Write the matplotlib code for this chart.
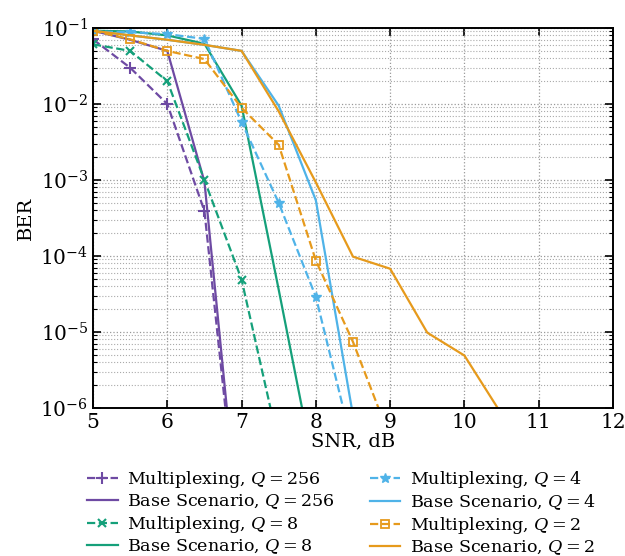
import matplotlib
matplotlib.use("Agg")
import matplotlib.pyplot as plt
import numpy as np

plt.rcParams['font.family'] = ['DejaVu Serif']
plt.rcParams['mathtext.fontset'] = 'dejavuserif'

# BER vs SNR curves
snr_mux256 = [5, 5.5, 6, 6.5, 7]
ber_mux256 = [0.071, 0.030, 0.010, 3.9e-4, 1e-8]
snr_base256 = [5, 5.5, 6, 6.5, 7]
ber_base256 = [0.092, 0.070, 0.050, 9.5e-4, 1.1e-8]

snr_mux8 = [5, 5.5, 6, 6.5, 7, 7.5]
ber_mux8 = [0.061, 0.050, 0.020, 1.0e-3, 4.9e-5, 3.3e-7]
snr_base8 = [5, 5.5, 6, 6.5, 7, 7.5, 8]
ber_base8 = [0.092, 0.090, 0.080, 0.062, 0.0095, 3.6e-5, 1.2e-7]

snr_mux4 = [5, 5.5, 6, 6.5, 7, 7.5, 8, 8.5]
ber_mux4 = [0.090, 0.088, 0.083, 0.072, 0.0058, 5.0e-4, 2.9e-5, 3e-7]
snr_base4 = [5, 5.5, 6, 6.5, 7, 7.5, 8, 8.5]
ber_base4 = [0.092, 0.080, 0.070, 0.060, 0.050, 0.0095, 5.4e-4, 8e-7]

snr_mux2 = [5, 5.5, 6, 6.5, 7, 7.5, 8, 8.5, 9]
ber_mux2 = [0.092, 0.071, 0.050, 0.039, 0.0089, 0.0029, 8.7e-5, 7.4e-6, 4e-7]
snr_base2 = [5, 5.5, 6, 6.5, 7, 7.5, 8, 8.5, 9, 9.5, 10, 10.5]
ber_base2 = [0.092, 0.080, 0.070, 0.060, 0.050, 0.008, 9.3e-4, 9.8e-5,
             6.8e-5, 9.8e-6, 4.9e-6, 8.3e-7]

purple = '#6e4aa3'
green = '#15a07a'
blue = '#4fb3e8'
orange = '#e69a1c'

fig = plt.figure(figsize=(6.25, 5.56), dpi=100)
ax = fig.add_axes([93/625, 1-408/556, 520/625, 380/556])

lw = 1.6
ax.plot(snr_mux256, ber_mux256, '--', marker='+', ms=8, mew=1.5, color=purple, lw=lw,
        label=r'Multiplexing, $Q = 256$')
ax.plot(snr_base256, ber_base256, '-', color=purple, lw=lw,
        label=r'Base Scenario, $Q = 256$')
ax.plot(snr_mux8, ber_mux8, '--', marker='x', ms=6, mew=1.5, color=green, lw=lw,
        label=r'Multiplexing, $Q = 8$')
ax.plot(snr_base8, ber_base8, '-', color=green, lw=lw,
        label=r'Base Scenario, $Q = 8$')
ax.plot(snr_mux4, ber_mux4, '--', marker='*', ms=7, mew=1.0, color=blue, lw=lw,
        label=r'Multiplexing, $Q = 4$')
ax.plot(snr_base4, ber_base4, '-', color=blue, lw=lw,
        label=r'Base Scenario, $Q = 4$')
ax.plot(snr_mux2, ber_mux2, '--', marker='s', ms=6, mew=1.3, mfc='none', color=orange, lw=lw,
        label=r'Multiplexing, $Q = 2$')
ax.plot(snr_base2, ber_base2, '-', color=orange, lw=lw,
        label=r'Base Scenario, $Q = 2$')

ax.set_yscale('log')
ax.set_xlim(5, 12)
ax.set_ylim(1e-6, 1e-1)
ax.set_xticks(np.arange(5, 13, 1))
ax.yaxis.set_minor_locator(matplotlib.ticker.LogLocator(base=10, subs=np.arange(2, 10)))
ax.yaxis.set_minor_formatter(matplotlib.ticker.NullFormatter())
ax.grid(True, which='major', ls=':', color='#999999', lw=0.9)
ax.grid(True, which='minor', axis='y', ls=':', color='#aaaaaa', lw=0.8)
ax.tick_params(which='both', direction='in', top=True, right=True, labelsize=14.5)
ax.tick_params(which='major', length=6, width=1.2)
ax.tick_params(which='minor', length=3, width=0.8)
for s in ax.spines.values():
    s.set_linewidth(1.4)

ax.set_xlabel('SNR, dB', fontsize=14, labelpad=0)
ax.set_ylabel('BER', fontsize=14, labelpad=4)

fig.legend(loc='upper left', bbox_to_anchor=(80/625, 1-462/556), ncol=2, frameon=False,
           fontsize=12.6, handlelength=1.75, handletextpad=0.55, columnspacing=2.0,
           labelspacing=0.15, borderaxespad=0)

fig.savefig('out.png', dpi=100)
